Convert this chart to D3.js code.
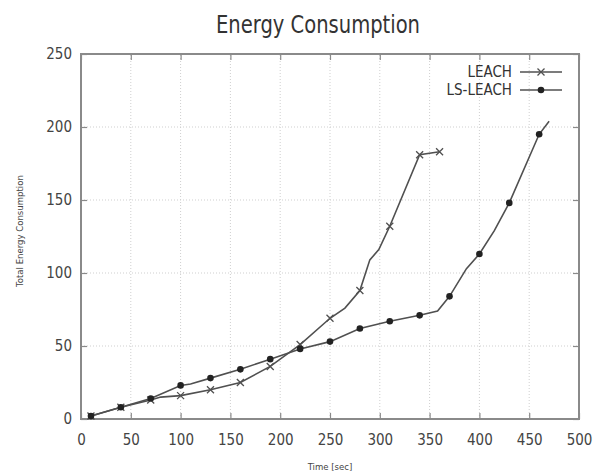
<!DOCTYPE html>
<html>
<head>
<meta charset="utf-8">
<script src="https://cdn.jsdelivr.net/npm/d3@7"></script>
<style>
  body { margin: 0; background: #fff; }
  svg { display: block; }
</style>
</head>
<body>
<svg id="chart"></svg>
<script>
// data (markers every 30 s, a few unmarked bends in between)
var leachTime  = [10, 40, 70, 80, 100, 130, 160, 190, 220, 250, 265, 280, 290, 299, 310, 340, 360];
var leachValue = [2, 8, 13, 15, 16, 20, 25, 36, 51, 69, 76, 88, 109, 116, 132, 181, 183];
var leachMark  = [1, 1, 1, 0, 1, 1, 1, 1, 1, 1, 0, 1, 0, 0, 1, 1, 1];

var lsTime  = [10, 40, 70, 100, 110, 130, 160, 190, 220, 250, 280, 310, 340, 358, 370, 387, 400, 415, 430, 460, 470];
var lsValue = [2, 8, 14, 23, 24, 28, 34, 41, 48, 53, 62, 67, 71, 74, 84, 103, 113, 129, 148, 195, 204];
var lsMark  = [1, 1, 1, 1, 0, 1, 1, 1, 1, 1, 1, 1, 1, 0, 1, 0, 1, 0, 1, 1, 0];

var xTicks = [0, 50, 100, 150, 200, 250, 300, 350, 400, 450, 500];
var yTicks = [0, 50, 100, 150, 200, 250];

var width = 594, height = 473;
var margin = {left: 81, right: 15, top: 54, bottom: 54};

var svg = d3.select("#chart")
    .attr("width", width)
    .attr("height", height);

var x = d3.scaleLinear().domain([0, 500]).range([margin.left, width - margin.right]);
var y = d3.scaleLinear().domain([0, 250]).range([height - margin.bottom, margin.top]);

var frame = "#8a8a8a";
var ink = "#505050";
var font = "'DejaVu Sans Condensed', 'DejaVu Sans', sans-serif";

// grid
svg.append("g").selectAll("line").data(xTicks.slice(1, -1)).enter().append("line")
    .attr("x1", d => x(d)).attr("x2", d => x(d))
    .attr("y1", y(0)).attr("y2", y(250))
    .style("stroke", "#cfcfcf").style("stroke-width", 1).style("stroke-dasharray", "1,2");
svg.append("g").selectAll("line").data(yTicks.slice(1, -1)).enter().append("line")
    .attr("x1", x(0)).attr("x2", x(500))
    .attr("y1", d => y(d)).attr("y2", d => y(d))
    .style("stroke", "#cfcfcf").style("stroke-width", 1).style("stroke-dasharray", "1,2");

// axes, ticks pointing inward on all four sides
var xAxis = svg.append("g")
    .attr("transform", "translate(0," + y(0) + ")")
    .call(d3.axisBottom(x).tickValues(xTicks).tickSize(-6).tickPadding(15));
var xTop = svg.append("g")
    .attr("transform", "translate(0," + y(250) + ")")
    .call(d3.axisTop(x).tickValues(xTicks).tickSize(-6).tickFormat(""));
var yAxis = svg.append("g")
    .attr("transform", "translate(" + x(0) + ",0)")
    .call(d3.axisLeft(y).tickValues(yTicks).tickSize(-6).tickPadding(9));
var yRight = svg.append("g")
    .attr("transform", "translate(" + x(500) + ",0)")
    .call(d3.axisRight(y).tickValues(yTicks).tickSize(-6).tickFormat(""));

[xAxis, xTop, yAxis, yRight].forEach(function(a) {
    a.select(".domain").remove();
    a.selectAll(".tick line").style("stroke", frame).style("stroke-width", 1.2);
    a.selectAll("text").style("fill", "#444").style("font-family", font).style("font-size", "15px");
});

svg.append("rect")
    .attr("x", x(0)).attr("y", y(250))
    .attr("width", x(500) - x(0)).attr("height", y(0) - y(250))
    .style("fill", "none").style("stroke", frame).style("stroke-width", 2);

// series
var line = d3.line().x(d => x(d[0])).y(d => y(d[1]));

function drawSeries(times, values, marks, marker) {
    var pts = times.map((t, i) => [t, values[i], marks[i]]);
    svg.append("path")
        .datum(pts)
        .attr("d", line)
        .style("fill", "none").style("stroke", ink).style("stroke-width", 1.6);
    var m = pts.filter(d => d[2]);
    if (marker == "cross") {
        svg.append("g").selectAll("path").data(m).enter().append("path")
            .attr("transform", d => "translate(" + x(d[0]) + "," + y(d[1]) + ")")
            .attr("d", "M-3.5,-3.5L3.5,3.5M-3.5,3.5L3.5,-3.5")
            .style("stroke", ink).style("stroke-width", 1.3);
    } else {
        svg.append("g").selectAll("circle").data(m).enter().append("circle")
            .attr("cx", d => x(d[0])).attr("cy", d => y(d[1]))
            .attr("r", 3.3).style("fill", "#222");
    }
}

drawSeries(leachTime, leachValue, leachMark, "cross");
drawSeries(lsTime, lsValue, lsMark, "dot");

// legend
var legend = [["LEACH", "cross", 72], ["LS-LEACH", "dot", 90]];
legend.forEach(function(l) {
    svg.append("text")
        .attr("x", 512).attr("y", l[2]).attr("dy", ".35em")
        .attr("text-anchor", "end")
        .style("fill", "#333").style("font-family", font).style("font-size", "15px")
        .text(l[0]);
    svg.append("line")
        .attr("x1", 520).attr("x2", 562).attr("y1", l[2]).attr("y2", l[2])
        .style("stroke", ink).style("stroke-width", 1.5);
    if (l[1] == "cross") {
        svg.append("path")
            .attr("transform", "translate(541," + l[2] + ")")
            .attr("d", "M-3.5,-3.5L3.5,3.5M-3.5,3.5L3.5,-3.5")
            .style("stroke", ink).style("stroke-width", 1.3);
    } else {
        svg.append("circle").attr("cx", 541).attr("cy", l[2]).attr("r", 3.3).style("fill", "#222");
    }
});

// titles
svg.append("text")
    .attr("x", 318).attr("y", 33)
    .attr("text-anchor", "middle")
    .attr("textLength", 204).attr("lengthAdjust", "spacingAndGlyphs")
    .style("fill", "#333").style("font-family", font).style("font-size", "24px")
    .text("Energy Consumption");

svg.append("text")
    .attr("x", 330).attr("y", 467).attr("dy", ".35em")
    .attr("text-anchor", "middle")
    .style("fill", "#444").style("font-family", font).style("font-size", "9.5px")
    .text("Time [sec]");

svg.append("text")
    .attr("transform", "translate(20,231) rotate(-90)")
    .attr("dy", ".35em")
    .attr("text-anchor", "middle")
    .style("fill", "#444").style("font-family", font).style("font-size", "9.5px")
    .text("Total Energy Consumption");
</script>
</body>
</html>
